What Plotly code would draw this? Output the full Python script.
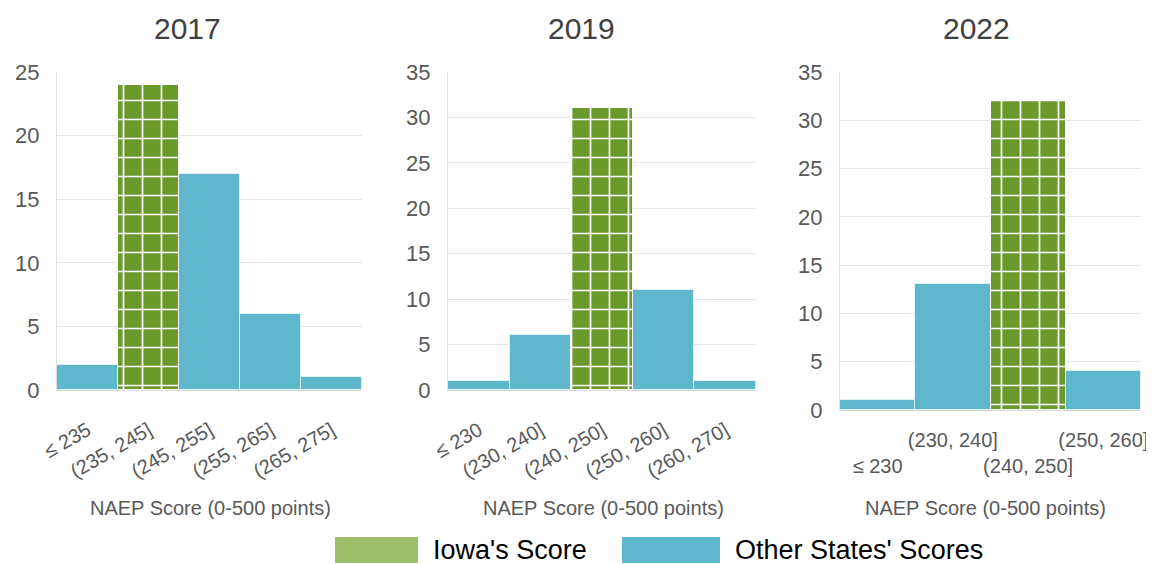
import plotly.graph_objects as go

# NAEP score bins and number of states per bin
cats_2017 = ["≤ 235", "(235, 245]", "(245, 255]", "(255, 265]", "(265, 275]"]
counts_2017 = [2, 24, 17, 6, 1]
iowa_2017 = "(235, 245]"

cats_2019 = ["≤ 230", "(230, 240]", "(240, 250]", "(250, 260]", "(260, 270]"]
counts_2019 = [1, 6, 31, 11, 1]
iowa_2019 = "(240, 250]"

cats_2022 = ["≤ 230", "(230, 240]", "(240, 250]", "(250, 260]"]
counts_2022 = [1, 13, 32, 4]
iowa_2022 = "(240, 250]"

years = ["2017", "2019", "2022"]
axis_title = "NAEP Score (0-500 points)"
legend_names = ["Iowa's Score", "Other States' Scores"]

# page body has an 8px margin, so the figure is drawn 8px in and made 8px smaller
W, H = 1154, 564
OFF = 8
FW, FH = W - OFF, H - OFF
green = "#6a9a2b"
blue = "#5fb7cc"
grey_txt = "#595959"
font = "Liberation Sans, Arial, sans-serif"


def px_x(x):
    return (x - OFF) / FW


def px_y(y):
    return 1 - (y - OFF) / FH


# cats, counts, iowa bin, y range, plot x span, plot y span, title x, axis title x
panels = [
    (cats_2017, counts_2017, iowa_2017, [0, 25], (57, 362), (72, 390), 187, 210),
    (cats_2019, counts_2019, iowa_2019, [0, 35], (448, 756), (72, 390), 581, 603),
    (cats_2022, counts_2022, iowa_2022, [0, 35], (840, 1141), (72, 410), 976, 985),
]

fig = go.Figure()
annotations = []
for i, (cats, counts, iowa, yr, (x0, x1), (y0, y1), tx, ax) in enumerate(panels):
    n = "" if i == 0 else str(i + 1)
    other = [v if c != iowa else None for c, v in zip(cats, counts)]
    mine = [v if c == iowa else None for c, v in zip(cats, counts)]
    fig.add_trace(go.Bar(
        x=cats, y=other, xaxis="x" + n, yaxis="y" + n, name=legend_names[1],
        marker=dict(color=blue, line=dict(color="rgba(255,255,255,0.6)", width=1)),
        showlegend=False,
    ))
    fig.add_trace(go.Bar(
        x=cats, y=mine, xaxis="x" + n, yaxis="y" + n, name=legend_names[0],
        marker=dict(color=green, line=dict(color="white", width=1),
                    pattern=dict(shape="+", size=19, solidity=0.17,
                                 fgcolor="white", bgcolor=green, fgopacity=1)),
        showlegend=False,
    ))

    if i < 2:
        ticktext = cats
        tickangle = -30
        standoff = 20
        tsize = 20
    else:
        ticktext = [c if k % 2 else "<br>" + c for k, c in enumerate(cats)]
        tickangle = 0
        standoff = 12
        tsize = 20

    fig.update_layout(**{
        "xaxis" + n: dict(
            domain=[px_x(x0), px_x(x1)], anchor="y" + n,
            type="category", tickvals=cats, ticktext=ticktext, tickangle=tickangle,
            ticklabelstandoff=standoff, automargin=False,
            tickfont=dict(size=tsize, color=grey_txt, family=font),
            showline=True, linecolor="#d9d9d9", showgrid=False, ticks="",
        ),
        "yaxis" + n: dict(
            domain=[px_y(y1), px_y(y0)], anchor="x" + n,
            range=yr, dtick=5, tickfont=dict(size=22, color=grey_txt, family=font),
            showgrid=True, gridcolor="#e6e6e6", gridwidth=1, automargin=False,
            showline=True, linecolor="#e0e0e0", zeroline=False, ticks="",
            ticklabelstandoff=12,
        ),
    })

    annotations.append(dict(
        text=years[i], x=px_x(tx), y=px_y(29), xanchor="center", yanchor="middle",
        xref="paper", yref="paper", showarrow=False,
        font=dict(size=30, color="#404040", family=font),
    ))
    annotations.append(dict(
        text=axis_title, x=px_x(ax), y=px_y(508), xanchor="center", yanchor="middle",
        xref="paper", yref="paper", showarrow=False,
        font=dict(size=20, color=grey_txt, family=font),
    ))

# legend drawn as swatches + labels
shapes = [
    dict(type="rect", xref="paper", yref="paper",
         x0=px_x(335), x1=px_x(418), y0=px_y(563), y1=px_y(537),
         fillcolor="#9dbf6c", line=dict(width=0)),
    dict(type="rect", xref="paper", yref="paper",
         x0=px_x(622), x1=px_x(720), y0=px_y(563), y1=px_y(537),
         fillcolor=blue, line=dict(width=0)),
]
annotations.append(dict(
    text=legend_names[0], x=px_x(431), y=px_y(550), xanchor="left", yanchor="middle",
    xref="paper", yref="paper", showarrow=False,
    font=dict(size=27, color="black", family=font),
))
annotations.append(dict(
    text=legend_names[1], x=px_x(733), y=px_y(550), xanchor="left", yanchor="middle",
    xref="paper", yref="paper", showarrow=False,
    font=dict(size=27, color="black", family=font),
))

fig.update_layout(
    width=FW, height=FH,
    margin=dict(l=0, r=0, t=0, b=0, pad=0, autoexpand=False),
    barmode="overlay", bargap=0,
    plot_bgcolor="white", paper_bgcolor="white",
    annotations=annotations, shapes=shapes,
    showlegend=False,
)

fig.write_html("out.html")
